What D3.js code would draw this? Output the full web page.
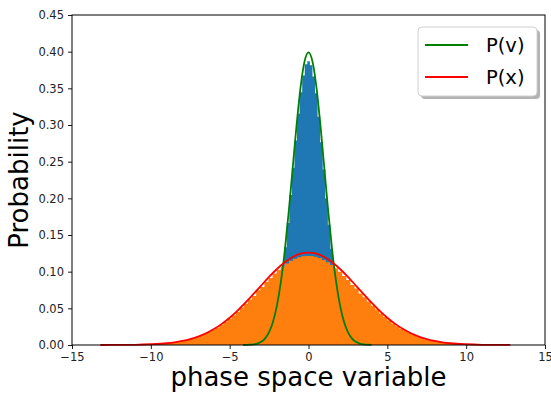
<!DOCTYPE html>
<html>
<head>
<meta charset="utf-8">
<script src="https://cdn.jsdelivr.net/npm/d3@7/dist/d3.min.js"></script>
<style>
  body { margin: 0; background: #fff; }
  svg { display: block; font-family: "DejaVu Sans", sans-serif; }
</style>
</head>
<body>
<svg id="chart" width="551" height="396"></svg>
<script>
// histogram of v : 50 bins from -4.15 to 4.0
const vBinStart = -4.15;
const vBinEnd = 4.0;
const vHist = [
  0.0001, 0.0002, 0.0004, 0.0007, 0.0012, 0.0019, 0.0033, 0.0053, 0.0083, 0.0132,
  0.0197, 0.0288, 0.0418, 0.0578, 0.0780, 0.1042, 0.1333, 0.1663, 0.2044, 0.2417,
  0.2788, 0.3153, 0.3448, 0.3675, 0.3827, 0.3870, 0.3814, 0.3663, 0.3432, 0.3113,
  0.2765, 0.2394, 0.1997, 0.1640, 0.1313, 0.1009, 0.0766, 0.0566, 0.0401, 0.0281,
  0.0192, 0.0125, 0.0081, 0.0051, 0.0031, 0.0018, 0.0011, 0.0006, 0.0003, 0.0002
];

// histogram of x : 100 bins from -13.2 to 12.8
const xBinStart = -13.2;
const xBinEnd = 12.8;
const xHist = [
  0.0001, 0.0001, 0.0000, 0.0001, 0.0001, 0.0001, 0.0002, 0.0002, 0.0003, 0.0004,
  0.0006, 0.0008, 0.0010, 0.0012, 0.0016, 0.0020, 0.0025, 0.0032, 0.0039, 0.0048,
  0.0060, 0.0072, 0.0088, 0.0105, 0.0125, 0.0149, 0.0176, 0.0205, 0.0238, 0.0275,
  0.0316, 0.0358, 0.0404, 0.0455, 0.0510, 0.0566, 0.0622, 0.0668, 0.0745, 0.0790,
  0.0862, 0.0915, 0.0975, 0.1025, 0.1072, 0.1110, 0.1148, 0.1175, 0.1195, 0.1210,
  0.1215, 0.1213, 0.1203, 0.1188, 0.1160, 0.1130, 0.1092, 0.1048, 0.0998, 0.0942,
  0.0885, 0.0818, 0.0770, 0.0702, 0.0650, 0.0594, 0.0536, 0.0483, 0.0430, 0.0382,
  0.0336, 0.0294, 0.0255, 0.0221, 0.0190, 0.0162, 0.0137, 0.0115, 0.0096, 0.0080,
  0.0066, 0.0054, 0.0044, 0.0035, 0.0028, 0.0023, 0.0018, 0.0014, 0.0011, 0.0009,
  0.0007, 0.0005, 0.0004, 0.0003, 0.0002, 0.0001, 0.0001, 0.0001, 0.0000, 0.0001
];

// P(v) curve
const pvX = [-4.15, -3.75, -3.5, -3.25, -3, -2.75, -2.5, -2.25, -2, -1.75, -1.5, -1.25, -1, -0.75, -0.5, -0.25,
  0, 0.25, 0.5, 0.75, 1, 1.25, 1.5, 1.75, 2, 2.25, 2.5, 2.75, 3, 3.25, 3.5, 3.75, 4.0];
const pvY = [0.0001, 0.0004, 0.0009, 0.0020, 0.0044, 0.0091, 0.0175, 0.0317, 0.0540, 0.0863, 0.1295, 0.1826, 0.2420, 0.3011, 0.3521, 0.3867,
  0.3989, 0.3867, 0.3521, 0.3011, 0.2420, 0.1826, 0.1295, 0.0863, 0.0540, 0.0317, 0.0175, 0.0091, 0.0044, 0.0020, 0.0009, 0.0004, 0.0001];

// P(x) curve
const pxX = [-13.2, -12, -11, -10, -9, -8.5, -8, -7.5, -7, -6.5, -6, -5.5, -5, -4.5, -4, -3.5, -3, -2.5, -2, -1.5, -1, -0.5,
  0, 0.5, 1, 1.5, 2, 2.5, 3, 3.5, 4, 4.5, 5, 5.5, 6, 6.5, 7, 7.5, 8, 8.5, 9, 10, 11, 12, 12.8];
const pxY = [0.00002, 0.0001, 0.0003, 0.0010, 0.0024, 0.0037, 0.0056, 0.0081, 0.0115, 0.0161, 0.0217, 0.0288, 0.0372, 0.0469, 0.0577, 0.0693, 0.0811, 0.0928, 0.1036, 0.1128, 0.1200, 0.1245,
  0.1260, 0.1245, 0.1200, 0.1128, 0.1036, 0.0928, 0.0811, 0.0693, 0.0577, 0.0469, 0.0372, 0.0288, 0.0217, 0.0161, 0.0115, 0.0081, 0.0056, 0.0037, 0.0024, 0.0010, 0.0003, 0.0001, 0.00004];

const xTicks = [-15, -10, -5, 0, 5, 10, 15];
const yTicks = [0, 0.05, 0.10, 0.15, 0.20, 0.25, 0.30, 0.35, 0.40, 0.45];
const legendLabels = ["P(v)", "P(x)"];

const svg = d3.select("#chart");
const mLeft = 72, mRight = 545, mTop = 15, mBottom = 345;

const x = d3.scaleLinear().domain([-15, 15]).range([mLeft, mRight]);
const y = d3.scaleLinear().domain([0, 0.45]).range([mBottom, mTop]);

// turn bin heights into step points
function steps(start, end, vals) {
  const w = (end - start) / vals.length;
  const pts = vals.map((v, i) => [start + i * w, v]);
  pts.push([end, vals[vals.length - 1]]);
  return pts;
}

const histArea = d3.area()
  .x(d => x(d[0]))
  .y0(y(0))
  .y1(d => y(d[1]))
  .curve(d3.curveStepAfter);

svg.append("path")
  .datum(steps(vBinStart, vBinEnd, vHist))
  .attr("d", histArea)
  .attr("fill", "#1f77b4");

svg.append("path")
  .datum(steps(xBinStart, xBinEnd, xHist))
  .attr("d", histArea)
  .attr("fill", "#ff7f0e");

const line = d3.line()
  .x(d => x(d[0]))
  .y(d => y(d[1]))
  .curve(d3.curveMonotoneX);

svg.append("path")
  .datum(d3.zip(pvX, pvY))
  .attr("d", line)
  .attr("fill", "none")
  .attr("stroke", "#008000")
  .attr("stroke-width", 1.8);

svg.append("path")
  .datum(d3.zip(pxX, pxY))
  .attr("d", line)
  .attr("fill", "none")
  .attr("stroke", "#ff0000")
  .attr("stroke-width", 1.8);

// axes
const xAxis = svg.append("g")
  .attr("transform", `translate(0,${mBottom})`)
  .call(d3.axisBottom(x).tickValues(xTicks).tickSize(4).tickPadding(4)
    .tickFormat(d => d3.format("d")(d).replace("-", "\u2212")));

const yAxis = svg.append("g")
  .attr("transform", `translate(${mLeft},0)`)
  .call(d3.axisLeft(y).tickValues(yTicks).tickSize(4).tickPadding(4)
    .tickFormat(d3.format(".2f")));

[xAxis, yAxis].forEach(g => {
  g.select(".domain").remove();
  g.selectAll("line").attr("stroke", "#000").attr("stroke-width", 0.9);
  g.selectAll("text").attr("font-size", "11.5px").attr("fill", "#222")
    .attr("font-family", "DejaVu Sans, sans-serif");
});

// frame
svg.append("rect")
  .attr("x", mLeft).attr("y", mTop)
  .attr("width", mRight - mLeft).attr("height", mBottom - mTop)
  .attr("fill", "none")
  .attr("stroke", "#000")
  .attr("stroke-width", 1);

// axis labels
svg.append("text")
  .attr("x", (mLeft + mRight) / 2)
  .attr("y", 386)
  .attr("text-anchor", "middle")
  .attr("font-size", "26px")
  .attr("fill", "#000")
  .text("phase space variable");

svg.append("text")
  .attr("transform", `translate(28,${(mTop + mBottom) / 2}) rotate(-90)`)
  .attr("text-anchor", "middle")
  .attr("font-size", "26px")
  .attr("fill", "#000")
  .text("Probability");

// legend
const lg = svg.append("g");
lg.append("rect")
  .attr("x", 421).attr("y", 30).attr("width", 119).attr("height", 69)
  .attr("rx", 4).attr("fill", "#b3b3b3");
lg.append("rect")
  .attr("x", 418).attr("y", 27).attr("width", 119).attr("height", 69)
  .attr("rx", 4).attr("fill", "#fff").attr("stroke", "#d0d0d0");

const legendColors = ["#008000", "#ff0000"];
legendLabels.forEach((lab, i) => {
  const ly = 45 + i * 32;
  lg.append("line")
    .attr("x1", 425).attr("x2", 468).attr("y1", ly).attr("y2", ly)
    .attr("stroke", legendColors[i]).attr("stroke-width", 1.8);
  lg.append("text")
    .attr("x", 486).attr("y", ly)
    .attr("dy", "0.36em")
    .attr("font-size", "19.5px")
    .attr("fill", "#000")
    .text(lab);
});
</script>
</body>
</html>
